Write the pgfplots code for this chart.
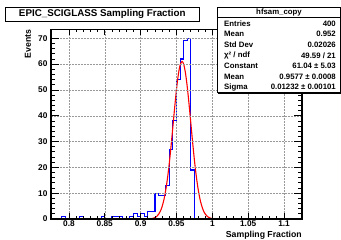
\documentclass[border=0pt]{standalone}
\usepackage{fontspec}
\setmainfont{Liberation Sans}
\usepackage{pgfplots}
\pgfplotsset{compat=1.18}
\begin{document}
\begin{tikzpicture}[x=1pt,y=1pt]
\useasboundingbox[fill=white] (0,0) rectangle (341,240);
\begin{axis}[at={(51pt,21pt)}, anchor=south west, scale only axis,
 width=251pt, height=189.7pt,
 xmin=0.775, xmax=1.125, ymin=0, ymax=73.5,
 xtick={0.8,0.85,0.9,0.95,1,1.05,1.1},
 xticklabels={0.8,0.85,0.9,0.95,1,1.05,1.1},
 ytick={0,10,20,30,40,50,60,70},
 minor x tick num=4, minor y tick num=4,
 tick align=inside,
 axis on top,
 xtick style={/pgfplots/major tick length=5.7pt,/pgfplots/minor tick length=2.9pt, line width=0.8pt, black},
 ytick style={/pgfplots/major tick length=7.5pt,/pgfplots/minor tick length=3.8pt, line width=0.8pt, black},
 grid=major,
 major grid style={gray!80, line width=0.5pt, dash pattern=on 0.6pt off 0.9pt},
 axis line style={line width=1.5pt},
 ticklabel style={font=\bfseries\fontsize{8.3}{10}\selectfont},
 xticklabel style={yshift=1.5pt},
 /pgf/number format/assume math mode=true,
]
\addplot[blue, line width=1.1pt, const plot mark left] coordinates {
(0.775,0) (0.79,1) (0.795,0) (0.815,1) (0.82,0) (0.845,1) (0.85,0)
(0.86,1) (0.875,0) (0.885,1) (0.89,2) (0.895,1) (0.9,2) (0.905,1)
(0.91,3) (0.92,10) (0.925,9) (0.935,13) (0.94,27) (0.945,38) (0.95,54)
(0.955,62) (0.96,69) (0.965,70) (0.97,19) (0.975,0) (1.125,0)};
\addplot[red, line width=1.1pt, smooth] coordinates {
(0.915,0.150) (0.9175,0.297) (0.92,0.565) (0.9225,1.030) (0.925,1.803)
(0.9275,3.026) (0.93,4.871) (0.9325,7.537) (0.935,11.18) (0.9375,15.92)
(0.94,21.75) (0.9425,28.52) (0.945,35.89) (0.9475,43.33) (0.95,50.21)
(0.9525,55.84) (0.955,59.59) (0.9577,61.04) (0.96,59.99) (0.9625,56.58)
(0.965,51.21) (0.9675,44.49) (0.97,37.08) (0.9725,29.67) (0.975,22.77)
(0.9775,16.78) (0.98,11.86) (0.9825,8.045) (0.985,5.241) (0.9875,3.275)
(0.99,1.963) (0.9925,1.130) (0.995,0.624) (0.9975,0.330) (1.0,0.168)};
\end{axis}
% axis titles
\node[rotate=90, anchor=base east, inner sep=0, font=\bfseries\fontsize{8.7}{10}\selectfont] at (31,210.5) {Events};
\node[anchor=base east, inner sep=0, font=\bfseries\fontsize{8.7}{10}\selectfont] at (302,2.3) {Sampling Fraction};
% title box
\fill[black] (6,218) rectangle (200,231.7);
\draw[fill=white, line width=0.7pt] (5,219) rectangle (199,232.7);
\node[inner sep=0, font=\bfseries\fontsize{9.8}{11}\selectfont] at (102.3,225.8) {EPIC\_SCIGLASS Sampling Fraction};
% stats box
\fill[black] (218.3,146.3) rectangle (341.5,231.7);
\draw[fill=white, line width=0.7pt] (217.3,147.3) rectangle (340.5,232.7);
\draw[line width=0.6pt] (217.3,222.7) -- (340.5,222.7);
\begin{scope}[font=\bfseries\fontsize{7.8}{9}\selectfont, inner sep=0]
\node at (279,227.6) {hfsam\_copy};
\node[anchor=west] at (224,216.3) {Entries};
\node[anchor=east] at (336,216.3) {400};
\node[anchor=west] at (224,205.7) {Mean};
\node[anchor=east] at (336,205.7) {0.952};
\node[anchor=west] at (224,195) {Std Dev};
\node[anchor=east] at (336,195) {0.02026};
\node[anchor=west] at (224,184.7) {χ² / ndf};
\node[anchor=east] at (336,184.7) {49.59 / 21};
\node[anchor=west] at (224,173.7) {Constant};
\node[anchor=east] at (336,173.7) {61.04 ± 5.03};
\node[anchor=west] at (224,163.3) {Mean};
\node[anchor=east] at (336,163.3) {0.9577 ± 0.0008};
\node[anchor=west] at (224,152.7) {Sigma};
\node[anchor=east] at (336,152.7) {0.01232 ± 0.00101};
\end{scope}
\end{tikzpicture}
\end{document}
